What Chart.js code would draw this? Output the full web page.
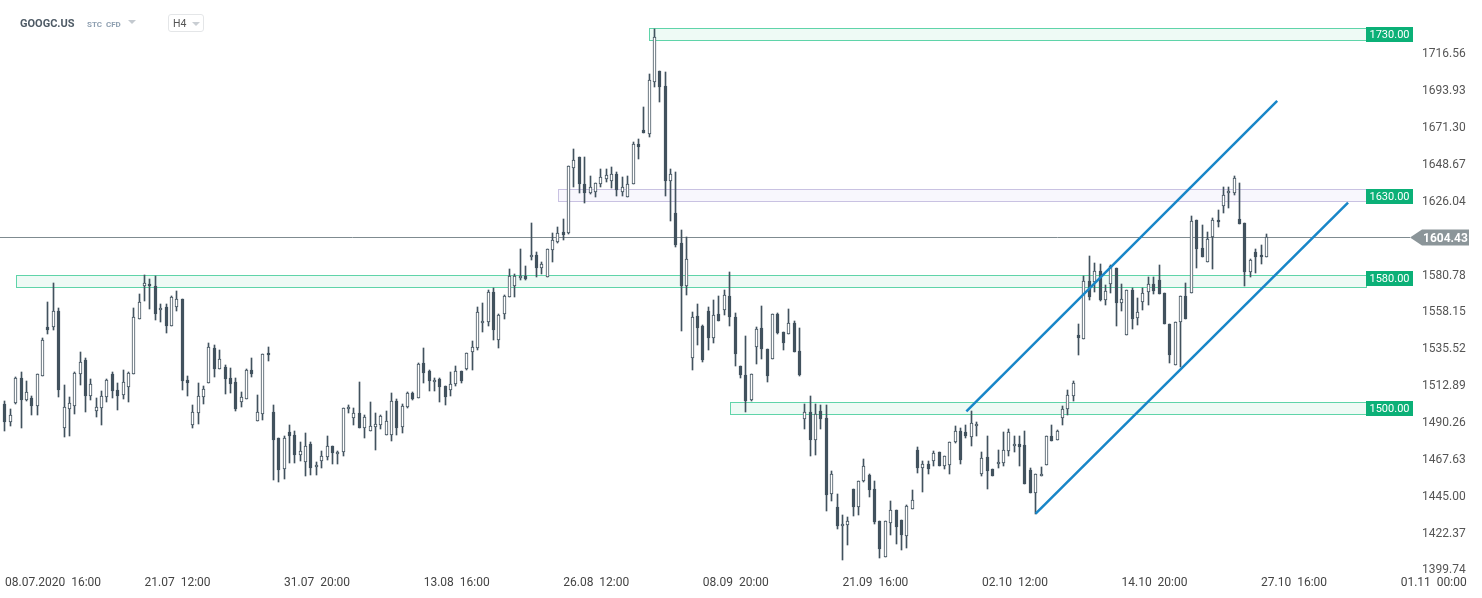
<!DOCTYPE html>
<html><head><meta charset="utf-8">
<script src="https://cdn.jsdelivr.net/npm/chart.js@4.4.1/dist/chart.umd.min.js"></script>
<style>
html,body{margin:0;padding:0;background:#fff;overflow:hidden}
#wrap{position:relative;width:1482px;height:598px}
#c{position:absolute;left:0;top:0}
.hdr{position:absolute;font-family:Roboto,sans-serif;white-space:nowrap;line-height:1}
.tri{position:absolute;width:0;height:0;border-left:4px solid transparent;border-right:4px solid transparent;border-top:4px solid #c3c9cf}
#tf{position:absolute;left:168px;top:14px;width:34px;height:16px;border:1px solid #e4e6e8;border-radius:3px;box-sizing:content-box}
</style></head><body>
<div id="wrap">
<canvas id="c" width="1482" height="598"></canvas>
<div class="hdr" style="left:20px;top:18px;font-size:11px;font-weight:700;color:#4f5b66">GOOGC.US</div>
<div class="hdr" style="left:87px;top:20.5px;font-size:8px;font-weight:700;color:#8e9fb0">STC&nbsp; CFD</div>
<div class="tri" style="left:128px;top:20px"></div>
<div id="tf"></div>
<div class="hdr" style="left:173px;top:18.5px;font-size:10.5px;color:#555">H4</div>
<div class="tri" style="left:192px;top:22px;border-top-color:#c9ced3"></div>
</div>
<script>
// ---- data (GOOGC.US, H4 candles, 08.07.2020 -> 27.10.2020) ----
const open = [1502.0,1490.7,1502.6,1518.1,1504.2,1505.9,1500.6,1519.4,1549.2,1549.2,
1559.0,1487.1,1498.9,1500.6,1520.4,1529.2,1506.7,1497.7,1499.3,1506.3,
1520.4,1510.8,1507.3,1512.4,1520.4,1554.1,1574.2,1575.8,1574.6,1559.7,
1561.5,1549.6,1561.5,1566.6,1516.9,1489.0,1496.5,1506.0,1514.8,1536.3,
1523.4,1524.6,1517.8,1515.4,1503.1,1505.2,1522.8,1491.7,1495.8,1533.4,
1497.0,1481.0,1462.0,1484.7,1482.9,1470.4,1466.3,1477.6,1463.2,1466.9,
1469.4,1476.3,1471.0,1472.2,1498.8,1493.3,1496.4,1487.0,1485.3,1487.8,
1488.8,1482.7,1483.0,1504.0,1488.0,1499.9,1508.9,1505.6,1527.1,1522.4,
1515.2,1517.5,1513.2,1510.3,1514.2,1522.4,1523.4,1533.6,1536.3,1551.6,
1552.6,1570.8,1541.4,1557.1,1567.4,1574.7,1579.6,1580.6,1591.9,1593.5,
1585.3,1580.2,1596.6,1601.7,1607.6,1607.2,1646.7,1653.6,1636.9,1631.8,
1632.4,1637.1,1640.2,1639.1,1643.0,1632.4,1629.3,1636.9,1661.6,1670.2,
1667.8,1699.9,1706.4,1697.2,1638.9,1619.5,1600.7,1574.1,1530.1,1556.1,
1549.6,1559.2,1542.4,1557.3,1559.4,1568.0,1555.3,1525.4,1519.9,1504.2,
1536.9,1548.9,1535.8,1529.5,1557.1,1546.1,1544.8,1551.6,1534.2,1492.7,
1496.8,1479.6,1497.4,1493.3,1446.7,1438.7,1426.9,1427.5,1450.0,1438.7,
1454.9,1458.6,1450.0,1430.3,1408.0,1428.9,1437.1,1430.9,1420.7,1437.5,
1473.9,1462.4,1465.1,1466.7,1472.3,1463.7,1464.3,1478.6,1485.5,1484.5,
1481.5,1488.2,1459.0,1469.2,1462.0,1465.1,1465.7,1473.3,1475.9,1477.4,
1477.0,1461.6,1447.3,1457.5,1464.3,1482.5,1479.6,1493.3,1498.8,1507.0,
1544.1,1542.0,1577.6,1576.8,1583.7,1565.5,1575.6,1585.4,1563.9,1544.1,
1572.1,1554.7,1564.5,1570.6,1575.6,1578.2,1570.0,1551.0,1525.7,1552.2,
1568.4,1570.0,1615.0,1597.6,1589.1,1604.2,1615.0,1623.6,1631.4,1631.8,
1615.4,1613.0,1583.3,1595.2,1593.6,1591.9];
const high = [1503.6,1498.9,1518.7,1521.6,1516.3,1506.7,1520.4,1542.5,1564.6,1576.2,
1560.9,1513.8,1506.5,1521.6,1533.9,1530.2,1517.5,1505.9,1510.2,1517.5,
1521.6,1514.9,1522.8,1521.6,1560.9,1569.7,1580.9,1578.7,1580.3,1563.5,
1563.5,1568.4,1571.5,1566.6,1519.0,1501.5,1515.0,1513.1,1539.3,1538.3,
1535.2,1526.0,1524.0,1517.8,1509.1,1523.4,1530.1,1507.4,1532.6,1536.9,
1501.3,1481.0,1482.1,1489.2,1485.5,1478.6,1484.1,1478.6,1466.1,1472.9,
1482.1,1476.3,1473.3,1499.4,1501.5,1499.4,1515.4,1495.4,1503.1,1496.4,
1495.4,1497.8,1508.9,1505.0,1502.0,1509.3,1509.3,1527.1,1536.5,1523.0,
1517.9,1517.9,1513.2,1521.5,1525.0,1522.4,1533.2,1540.4,1561.4,1563.9,
1572.1,1573.1,1557.1,1569.0,1584.7,1581.9,1597.2,1586.8,1613.0,1595.2,
1589.4,1597.0,1606.8,1610.9,1615.4,1648.1,1658.4,1653.6,1653.6,1642.0,
1637.9,1646.3,1646.3,1647.5,1644.6,1641.2,1642.0,1662.9,1664.7,1684.1,
1704.6,1732.0,1706.4,1706.0,1646.3,1644.2,1608.5,1604.4,1558.3,1563.4,
1550.6,1561.2,1565.9,1568.4,1572.0,1583.3,1557.7,1525.4,1544.0,1520.5,
1549.1,1562.2,1535.8,1557.1,1558.1,1546.1,1560.4,1553.0,1548.5,1502.1,
1507.0,1502.1,1501.5,1501.5,1461.0,1446.7,1434.0,1432.4,1450.0,1454.9,
1468.4,1459.2,1454.5,1430.3,1430.3,1442.6,1437.1,1430.9,1440.2,1449.3,
1475.5,1466.7,1467.1,1472.9,1472.3,1470.2,1478.6,1488.2,1487.2,1489.2,
1497.8,1490.7,1472.5,1482.5,1462.0,1473.9,1484.7,1486.6,1482.1,1482.1,
1485.5,1462.6,1459.0,1463.0,1482.5,1489.2,1486.2,1500.5,1510.3,1515.8,
1551.2,1580.7,1592.9,1588.8,1587.8,1575.1,1587.4,1585.4,1575.6,1572.1,
1573.1,1567.0,1573.1,1579.9,1579.9,1587.4,1570.0,1551.0,1552.6,1568.4,
1576.2,1617.5,1615.0,1611.9,1607.3,1616.0,1621.2,1635.1,1635.1,1642.0,
1637.5,1613.0,1591.1,1597.0,1599.7,1606.4];
const low = [1485.2,1488.3,1502.2,1487.1,1503.6,1495.4,1495.4,1519.0,1545.1,1547.6,
1506.1,1481.5,1482.1,1495.6,1513.8,1496.9,1504.6,1493.8,1489.3,1503.2,
1505.7,1498.3,1505.3,1503.2,1520.4,1554.1,1565.0,1560.3,1553.7,1552.1,
1545.5,1549.6,1558.8,1510.8,1507.1,1487.5,1489.5,1502.1,1514.8,1518.3,
1523.4,1508.0,1508.6,1497.4,1500.1,1505.2,1518.3,1491.7,1492.3,1528.1,
1455.1,1454.0,1455.9,1465.7,1465.7,1466.7,1457.5,1458.1,1458.1,1462.6,
1467.3,1464.9,1464.9,1470.2,1496.4,1489.2,1487.0,1480.8,1485.3,1473.5,
1486.6,1482.7,1479.0,1483.0,1484.0,1499.5,1504.6,1505.6,1514.8,1510.1,
1509.7,1502.9,1501.5,1506.6,1512.8,1514.8,1523.0,1523.0,1535.2,1546.1,
1549.6,1541.0,1536.3,1554.1,1567.4,1567.6,1577.8,1577.8,1590.1,1580.2,
1581.9,1579.8,1589.0,1600.7,1602.7,1606.6,1635.4,1631.8,1625.6,1631.0,
1629.3,1635.4,1638.1,1634.4,1629.9,1629.9,1629.3,1636.9,1652.4,1668.6,
1666.1,1696.4,1687.6,1629.9,1614.6,1598.6,1546.5,1569.0,1522.6,1538.3,
1527.5,1534.8,1539.7,1553.2,1556.7,1549.8,1525.0,1517.9,1497.0,1503.5,
1526.6,1529.5,1515.4,1529.5,1544.8,1534.8,1544.8,1533.6,1518.9,1486.6,
1469.8,1470.8,1486.6,1436.1,1442.2,1425.4,1406.0,1415.2,1433.4,1434.0,
1453.8,1444.6,1428.5,1407.4,1408.0,1421.7,1416.2,1412.1,1413.6,1437.5,
1459.6,1447.7,1459.0,1464.1,1463.7,1462.2,1459.0,1478.0,1465.3,1481.0,
1476.3,1482.1,1457.5,1449.8,1457.5,1462.6,1463.7,1469.8,1472.5,1464.1,
1452.8,1447.3,1434.6,1457.5,1464.3,1479.4,1479.6,1488.8,1495.0,1503.5,
1531.8,1542.0,1565.5,1571.0,1564.9,1562.5,1570.0,1549.6,1558.8,1544.1,
1548.1,1550.6,1559.8,1562.5,1569.6,1569.4,1551.0,1527.1,1525.7,1524.6,
1554.1,1570.0,1585.4,1592.5,1589.1,1584.7,1610.5,1619.5,1622.2,1630.4,
1612.4,1574.5,1579.9,1582.3,1588.0,1591.9];
const close = [1490.7,1495.4,1518.1,1504.2,1509.3,1500.6,1520.4,1541.5,1547.6,1559.0,
1510.4,1500.1,1502.6,1521.0,1527.8,1507.1,1514.3,1500.1,1506.9,1516.9,
1509.8,1507.1,1515.5,1521.0,1555.4,1564.6,1576.2,1574.2,1557.2,1561.1,
1549.6,1567.6,1566.6,1515.9,1514.9,1497.2,1506.9,1511.1,1536.9,1523.4,
1529.5,1517.2,1514.2,1498.8,1506.2,1522.8,1520.3,1497.0,1532.6,1531.8,
1479.6,1461.6,1481.0,1482.1,1470.4,1473.1,1476.3,1462.6,1464.7,1470.2,
1476.3,1471.8,1472.7,1499.4,1500.1,1496.4,1487.0,1493.9,1488.2,1489.6,
1494.7,1491.7,1504.0,1487.0,1500.9,1508.7,1505.0,1526.4,1520.9,1516.2,
1516.8,1512.1,1506.2,1514.2,1522.4,1516.2,1533.2,1537.1,1558.4,1552.8,
1570.8,1547.5,1556.3,1568.0,1580.6,1580.6,1580.6,1579.0,1593.7,1585.3,
1588.0,1597.0,1602.7,1606.8,1605.8,1648.1,1651.6,1636.9,1631.8,1635.0,
1637.9,1641.2,1642.6,1643.0,1633.4,1635.0,1636.9,1661.4,1660.0,1668.6,
1700.9,1727.1,1696.8,1638.9,1643.2,1599.7,1574.1,1591.1,1555.3,1548.5,
1529.1,1542.4,1556.7,1553.2,1569.0,1555.1,1532.6,1519.5,1503.9,1520.5,
1548.1,1535.6,1518.9,1557.1,1545.5,1539.7,1551.6,1533.6,1519.5,1496.8,
1479.6,1495.8,1492.7,1446.3,1459.0,1426.9,1428.3,1430.3,1438.5,1454.9,
1464.1,1448.9,1429.3,1413.1,1430.3,1437.1,1426.2,1421.3,1439.1,1443.2,
1462.4,1465.3,1462.0,1471.8,1463.7,1470.2,1478.6,1485.5,1467.8,1482.1,
1490.2,1489.6,1468.8,1460.6,1457.5,1466.3,1473.9,1484.7,1477.4,1475.3,
1452.8,1447.3,1459.0,1459.0,1482.5,1479.4,1485.5,1498.8,1507.6,1514.8,
1542.4,1577.6,1567.6,1583.7,1565.9,1571.5,1586.4,1563.9,1566.4,1572.1,
1554.1,1558.4,1570.0,1575.6,1571.5,1569.4,1551.0,1531.8,1552.2,1568.4,
1554.1,1614.4,1597.0,1592.5,1603.4,1615.0,1613.4,1630.4,1632.8,1640.6,
1612.4,1583.3,1590.5,1591.9,1591.9,1604.43];

const xTickIndex = [0,26,52,78,104,130,156,182,208,234,260];
const xTickLabels = ['08.07.2020  16:00','21.07  12:00','31.07  20:00','13.08  16:00','26.08  12:00','08.09  20:00','21.09  16:00','02.10  12:00','14.10  20:00','27.10  16:00','01.11  00:00'];
const yTicksShown = [1399.74,1422.37,1445.00,1467.63,1490.26,1512.89,1535.52,1558.15,1580.78,1626.04,1648.67,1671.30,1693.93,1716.56];

// support / resistance zones
const zoneLevel = [1730, 1630, 1580, 1500];
const zoneTop = [1732.7, 1633.8, 1581.0, 1503.1];
const zoneBottom = [1725.3, 1626.4, 1573.6, 1495.7];
const zoneStart = [120.0, 103.1, 2.05, 135.0];
const zoneKind = ['green', 'purple', 'green', 'green'];
const zoneEnd = 253.6;

// rising channel (two parallel trend lines)
const upperLineX = [179.1, 237.0];
const upperLineY = [1497.4, 1688.0];
const lowerLineX = [192.0, 250.2];
const lowerLineY = [1434.7, 1625.6];

const lastPrice = 1604.43;

// ---- chart ----
const DARK = '#42525e';
const BLUE = '#1886c8';
const idx = open.map((_, i) => i);
const bodies = idx.map(i => ({x: i, y: [open[i], close[i]]}));
const wicks = idx.map(i => ({x: i, y: [low[i], high[i]]}));
const bodyFill = idx.map(i => close[i] >= open[i] ? '#ffffff' : DARK);
const upper = upperLineX.map((x, i) => ({x, y: upperLineY[i]}));
const lower = lowerLineX.map((x, i) => ({x, y: lowerLineY[i]}));

Chart.defaults.font.family = 'Roboto, "Open Sans", sans-serif';

const snapPlugin = {
  id: 'snap',
  afterDatasetsUpdate(chart) {
    chart.data.datasets.forEach((ds, di) => {
      if (ds.type === 'line') return;
      chart.getDatasetMeta(di).data.forEach(el => {
        el.x = Math.floor(el.x) + 0.5;
        el.y = Math.round(el.y);
        el.base = Math.round(el.base);
      });
    });
  }
};

const overlayPlugin = {
  id: 'overlay',
  beforeDatasetsDraw(chart) {
    const {ctx, chartArea, scales: {x, y}} = chart;
    ctx.save();
    for (let i = 0; i < zoneLevel.length; i++) {
      const x1 = Math.round(x.getPixelForValue(zoneStart[i])) + 0.5;
      const x2 = Math.round(x.getPixelForValue(zoneEnd)) + 0.5;
      const y1 = Math.round(y.getPixelForValue(zoneTop[i])) + 0.5;
      const y2 = Math.round(y.getPixelForValue(zoneBottom[i])) + 0.5;
      const green = zoneKind[i] === 'green';
      ctx.fillStyle = green ? '#eefaf5' : '#f8f7fd';
      ctx.fillRect(x1, y1, x2 - x1, y2 - y1);
      ctx.strokeStyle = green ? '#5fd4a9' : '#c9c2e2';
      ctx.lineWidth = 1;
      ctx.strokeRect(x1, y1, x2 - x1, y2 - y1);
    }
    const py = Math.round(y.getPixelForValue(lastPrice)) + 0.5;
    ctx.strokeStyle = '#7f8b90';
    ctx.beginPath();
    ctx.moveTo(chartArea.left, py);
    ctx.lineTo(chartArea.right - 3, py);
    ctx.stroke();
    ctx.restore();
  },
  afterDraw(chart) {
    const {ctx, chartArea, scales: {x, y}} = chart;
    ctx.save();
    ctx.font = '11px Roboto, sans-serif';
    ctx.textBaseline = 'middle';
    for (let i = 0; i < zoneLevel.length; i++) {
      const x1 = Math.round(x.getPixelForValue(zoneEnd));
      const x2 = Math.round(chartArea.right);
      const cy = Math.round(y.getPixelForValue(zoneLevel[i])) + 1;
      ctx.fillStyle = '#0bb077';
      ctx.fillRect(x1, cy - 7, x2 - x1, 15);
      ctx.fillStyle = '#ffffff';
      ctx.textAlign = 'center';
      ctx.fillText(zoneLevel[i].toFixed(2), (x1 + x2) / 2, cy + 1);
    }
    // last price tag
    const py = Math.round(y.getPixelForValue(lastPrice));
    const tx = Math.round(chartArea.right) - 3;
    ctx.fillStyle = '#8b9599';
    ctx.beginPath();
    ctx.moveTo(tx, py + 0.5);
    ctx.lineTo(tx + 12, py - 7.5);
    ctx.lineTo(tx + 59, py - 7.5);
    ctx.lineTo(tx + 59, py + 8.5);
    ctx.lineTo(tx + 12, py + 8.5);
    ctx.closePath();
    ctx.fill();
    ctx.fillStyle = '#ffffff';
    ctx.font = 'bold 12px Roboto, sans-serif';
    ctx.textAlign = 'left';
    ctx.fillText(lastPrice.toFixed(2), tx + 13, py + 1.5);
    ctx.restore();
  }
};

new Chart(document.getElementById('c'), {
  type: 'bar',
  data: {
    datasets: [
      {type: 'line', label: 'upper', data: upper, borderColor: BLUE, borderWidth: 2.5, pointRadius: 0, fill: false, order: 0},
      {type: 'line', label: 'lower', data: lower, borderColor: BLUE, borderWidth: 2.5, pointRadius: 0, fill: false, order: 0},
      {label: 'body', data: bodies, backgroundColor: bodyFill, borderColor: DARK, borderWidth: 1, borderSkipped: false,
       grouped: false, barPercentage: 1, categoryPercentage: 1, maxBarThickness: 3, minBarLength: 2, order: 1},
      {label: 'wick', data: wicks, backgroundColor: DARK, borderWidth: 0, grouped: false,
       barPercentage: 1, categoryPercentage: 1, maxBarThickness: 1, order: 2}
    ]
  },
  options: {
    responsive: false,
    animation: false,
    layout: {padding: 0},
    plugins: {legend: {display: false}, tooltip: {enabled: false}},
    scales: {
      x: {
        type: 'linear', min: -0.93, max: 262.3, offset: false, bounds: 'data',
        grid: {display: false, offset: false, drawTicks: false}, border: {display: false},
        ticks: {
          align: 'start', autoSkip: false, maxRotation: 0, padding: 4, color: '#444',
          font: {size: 12},
          callback: (v) => { const k = xTickIndex.indexOf(v); return k >= 0 ? xTickLabels[k] : ''; }
        },
        afterBuildTicks: (s) => { s.ticks = xTickIndex.map(v => ({value: v})); },
        afterFit: (s) => { s.height = 26; s.paddingLeft = 0; s.paddingRight = 0; }
      },
      y: {
        type: 'linear', position: 'right', min: 1398.8, max: 1750, beginAtZero: false, bounds: 'data',
        grid: {display: false, drawTicks: false}, border: {display: false},
        ticks: {
          padding: 9, color: '#555', font: {size: 12}, crossAlign: 'near',
          callback: (v) => Number(v).toFixed(2)
        },
        afterBuildTicks: (s) => { s.ticks = yTicksShown.map(v => ({value: v})); },
        afterFit: (s) => { s.width = 69; s.paddingTop = 0; s.paddingBottom = 0; }
      }
    }
  },
  plugins: [snapPlugin, overlayPlugin]
});
</script>
</body></html>
